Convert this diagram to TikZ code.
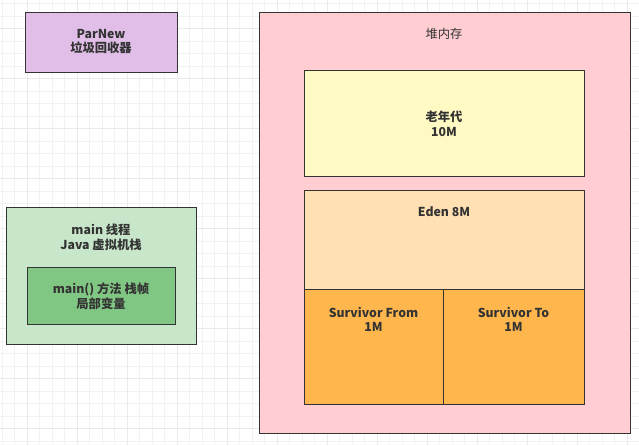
\documentclass[tikz,border=0pt]{standalone}
\usepackage{fontspec}
\setmainfont{Noto Sans CJK SC}
\usetikzlibrary{positioning}

\definecolor{inkgrey}{HTML}{333333}
\definecolor{gridgrey}{HTML}{F2F2F2}
\definecolor{gridmajor}{HTML}{EAEAEA}
\definecolor{parnewfill}{HTML}{E1BEE7}
\definecolor{stackfill}{HTML}{C8E6C9}
\definecolor{framefill}{HTML}{81C784}
\definecolor{heapfill}{HTML}{FFCDD2}
\definecolor{oldfill}{HTML}{FFF9C4}
\definecolor{edenfill}{HTML}{FFE0B2}
\definecolor{survfill}{HTML}{FFB74D}

\tikzset{
  membox/.style={draw=inkgrey, line width=0.9pt, rectangle, inner sep=0pt},
  lbl/.style={text=inkgrey, align=center, inner sep=0.75pt, font=\fontsize{12.3}{14.5}\selectfont\bfseries},
  lblplain/.style={lbl, font=\fontsize{12.3}{14.5}\selectfont},
  gridline/.style={draw=gridgrey, line width=0.6pt},
  gridbold/.style={draw=gridmajor, line width=0.6pt},
}

\begin{document}
\begin{tikzpicture}[x=1pt,y=-1pt]
  \useasboundingbox (0,0) rectangle (639,445);
  \fill[white] (0,0) rectangle (639,445);

  % grid paper
  \foreach \gx in {1.8,14.3,...,639} \draw[gridline] (\gx,0) -- (\gx,445);
  \foreach \gy in {3.5,16,...,445} \draw[gridline] (0,\gy) -- (639,\gy);
  \foreach \gx in {27,77,...,639} \draw[gridbold] (\gx,0) -- (\gx,445);
  \foreach \gy in {28.5,78.5,...,445} \draw[gridbold] (0,\gy) -- (639,\gy);

  % collector
  \node[membox, fill=parnewfill, minimum width=152, minimum height=60] (parnew) at (101,42) {};
  \node[lbl] (parnew-txt) at (101,41.5) {ParNew\\垃圾回收器};

  % thread stack
  \node[membox, fill=stackfill, minimum width=190, minimum height=137] (stack) at (101,275.5) {};
  \node[lbl] (stack-txt) at (101,237.5) {main 线程\\Java 虚拟机栈};
  \node[membox, fill=framefill, minimum width=148, minimum height=57] (frame) at (101,295.5) {};
  \node[lbl] (frame-txt) at (101,296) {main() 方法 栈帧\\局部变量};

  % heap
  \node[membox, fill=heapfill, minimum width=371, minimum height=421] (heap) at (444.5,222.5) {};
  \node[lblplain] (heap-txt) at (444,34) {堆内存};

  \node[membox, fill=oldfill, minimum width=280, minimum height=106] (old) at (444,123) {};
  \node[lbl] (old-txt) at (444,124) {老年代\\10M};

  \node[membox, fill=edenfill, minimum width=280, minimum height=99] (eden) at (444,239.5) {};
  \node[lbl] (eden-txt) at (444,212) {Eden 8M};

  \node[membox, fill=survfill, minimum width=139, minimum height=115] (from) at (373.5,346.5) {};
  \node[lbl] (from-txt) at (373.5,319.5) {Survivor From\\1M};
  \node[membox, fill=survfill, minimum width=141, minimum height=115] (to) at (513.5,346.5) {};
  \node[lbl] (to-txt) at (513.5,319.5) {Survivor To\\1M};
\end{tikzpicture}
\end{document}
